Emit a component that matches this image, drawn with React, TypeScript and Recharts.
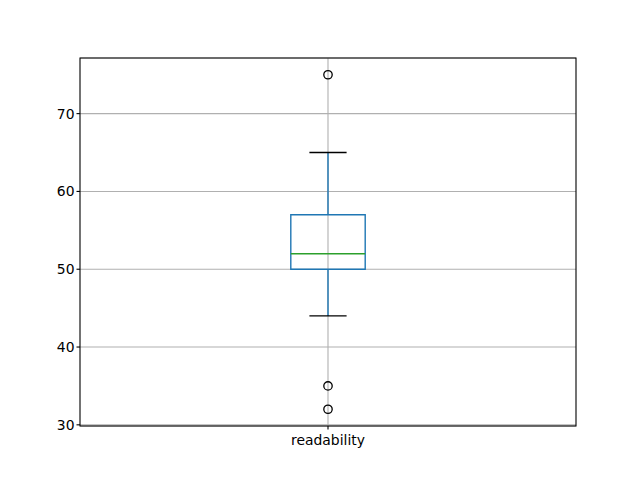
import React from "react";
import {
  CartesianGrid,
  ComposedChart,
  ReferenceArea,
  ReferenceLine,
  Scatter,
  XAxis,
  YAxis
} from "recharts";

// box statistics for the single column
const categories = ["readability"];
const positions = [1];
const q1Values = [50];
const medianValues = [52];
const q3Values = [57];
const lowWhiskers = [44];
const highWhiskers = [65];
const outlierValues = [75, 35, 32];

const yTicks = [30, 40, 50, 60, 70];
const yDomain: [number, number] = [29.85, 77.15];
const xDomain: [number, number] = [0.5, 1.5];

const BOX_HALF = 0.075;
const CAP_HALF = 0.0375;
const BLUE = "#1f77b4";
const GREEN = "#2ca02c";
const FONT = "DejaVu Sans, sans-serif";

const outlierData = outlierValues.map((v) => ({ x: positions[0], y: v }));

const OpenCircle = (props: any) => {
  const { cx, cy } = props;
  if (cx == null || cy == null) return null;
  return <circle cx={cx} cy={cy} r={4.2} fill="none" stroke="#000" strokeWidth={1.3} />;
};

const App: React.FC = () => {
  const p = positions[0];
  return (
    <div style={{ position: "absolute", left: 0, top: 0, background: "#fff" }}>
      <ComposedChart
        width={640}
        height={480}
        margin={{ top: 58, right: 64, bottom: 0, left: 0 }}
      >
        <CartesianGrid stroke="#b0b0b0" strokeWidth={1.1} verticalPoints={[328]} />
        <XAxis
          dataKey="x"
          type="number"
          domain={xDomain}
          ticks={positions}
          tickFormatter={(v: number) => categories[positions.indexOf(v)] ?? ""}
          height={54}
          tickSize={3.5}
          axisLine={false}
          tickLine={{ stroke: "#000", strokeWidth: 1.1 }}
          tick={{ fill: "#000", fontSize: 13.9, fontFamily: FONT, dy: 4 }}
          allowDataOverflow
        />
        <YAxis
          dataKey="y"
          type="number"
          domain={yDomain}
          ticks={yTicks}
          width={80}
          tickSize={3.5}
          axisLine={false}
          tickLine={{ stroke: "#000", strokeWidth: 1.1 }}
          tick={{ fill: "#000", fontSize: 13.9, fontFamily: FONT }}
          allowDataOverflow
        />
        {/* whiskers */}
        <ReferenceLine
          segment={[{ x: p, y: lowWhiskers[0] }, { x: p, y: q1Values[0] }]}
          stroke={BLUE}
          strokeWidth={1.4}
        />
        <ReferenceLine
          segment={[{ x: p, y: q3Values[0] }, { x: p, y: highWhiskers[0] }]}
          stroke={BLUE}
          strokeWidth={1.4}
        />
        {/* caps */}
        <ReferenceLine
          segment={[{ x: p - CAP_HALF, y: lowWhiskers[0] }, { x: p + CAP_HALF, y: lowWhiskers[0] }]}
          stroke="#000"
          strokeWidth={1.4}
        />
        <ReferenceLine
          segment={[{ x: p - CAP_HALF, y: highWhiskers[0] }, { x: p + CAP_HALF, y: highWhiskers[0] }]}
          stroke="#000"
          strokeWidth={1.4}
        />
        {/* box */}
        <ReferenceArea
          x1={p - BOX_HALF}
          x2={p + BOX_HALF}
          y1={q1Values[0]}
          y2={q3Values[0]}
          fill="none"
          fillOpacity={0}
          stroke={BLUE}
          strokeWidth={1.4}
        />
        {/* median */}
        <ReferenceLine
          segment={[{ x: p - BOX_HALF, y: medianValues[0] }, { x: p + BOX_HALF, y: medianValues[0] }]}
          stroke={GREEN}
          strokeWidth={1.5}
        />
        <Scatter data={outlierData} shape={OpenCircle} isAnimationActive={false} />
        {/* frame */}
        <ReferenceArea
          x1={xDomain[0]}
          x2={xDomain[1]}
          y1={yDomain[0]}
          y2={yDomain[1]}
          fill="none"
          fillOpacity={0}
          stroke="#000"
          strokeWidth={1.1}
          ifOverflow="visible"
        />
      </ComposedChart>
    </div>
  );
};

export default App;
